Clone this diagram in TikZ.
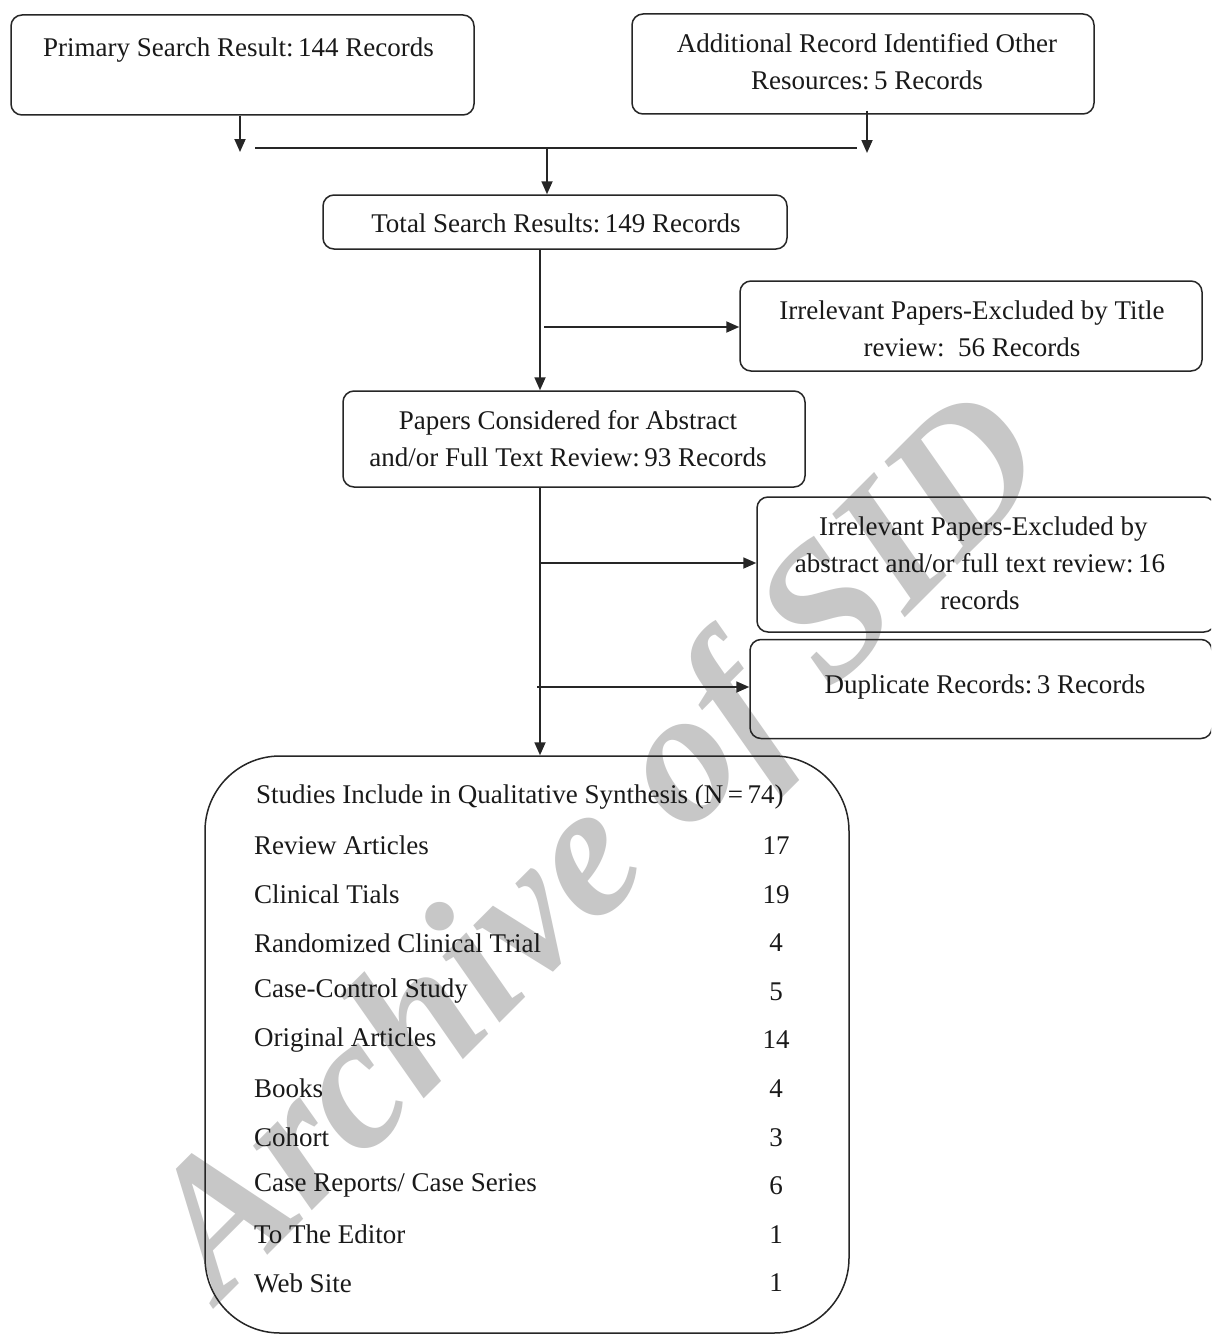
\documentclass[tikz,border=0pt]{standalone}
\usepackage{fontspec}
\setmainfont{Liberation Serif}
\usetikzlibrary{arrows.meta}
\begin{document}
\begin{tikzpicture}[x=1pt,y=-1pt,
  box/.style={draw=black!85, line width=1.5pt, rounded corners=11pt, inner sep=0pt},
  txt/.style={font=\fontsize{27}{37}\selectfont, align=center, inner sep=0pt, text=black!90},
  row/.style={font=\fontsize{27}{37}\selectfont, inner sep=0pt, text=black!90, anchor=west},
  num/.style={font=\fontsize{27}{37}\selectfont, inner sep=0pt, text=black!90},
  arr/.style={draw=black!85, line width=1.8pt, -{Triangle[length=13pt,width=11pt]}},
  ln/.style={draw=black!85, line width=1.8pt},
  wmark/.style={text=black!22, font=\fontsize{190}{190}\selectfont\bfseries\itshape, inner sep=0pt}]
\useasboundingbox (0,0) rectangle (1211,1335);
\clip (0,0) rectangle (1211,1335);
\fill[white] (0,0) rectangle (1211,1335);

% watermark
\node[wmark, rotate=45] (wm) at (605,852) {Archive of SID};

% boxes
\node[box, minimum width=463pt, minimum height=100pt] (b1) at (242.5,65) {};
\node[txt] (t1) at (238.5,50) {Primary Search Result:\,144 Records};

\node[box, minimum width=462pt, minimum height=100pt] (b2) at (863,64) {};
\node[txt] (t2) at (867,62) {Additional Record Identified Other\\Resources:\,5 Records};

\node[box, minimum width=464pt, minimum height=54pt] (b3) at (555,222) {};
\node[txt] (t3) at (556,223) {Total Search Results:\,149 Records};

\node[box, minimum width=462pt, minimum height=90pt] (b5) at (971,326) {};
\node[txt] (t5) at (972,329) {Irrelevant Papers-Excluded by Title\\review:\ \ 56 Records};

\node[box, minimum width=462pt, minimum height=96pt] (b4) at (574,439) {};
\node[txt] (t4) at (568,439) {Papers Considered for Abstract\\and/or Full Text Review:\,93 Records};

\node[box, minimum width=458pt, minimum height=135pt] (b6) at (986,564.5) {};
\node[txt] (t6) at (980,563) {\ Irrelevant Papers-Excluded by\\abstract and/or full text review:\,16\\records};

\node[box, minimum width=462pt, minimum height=99pt] (b7) at (981,689) {};
\node[txt] (t7) at (985,687) {Duplicate Records:\,3 Records};

\node[box, rounded corners=75pt, minimum width=644pt, minimum height=577pt] (b8) at (527,1044.5) {};
\node[row] (h8) at (256,797) {Studies Include in Qualitative Synthesis (N\,=\,74)};
\foreach \lab/\n [count=\i] in {Review Articles/17, Clinical Tials/19, Randomized Clinical Trial/4, Case-Control Study/5, Original Articles/14, Books/4, Cohort/3, {Case Reports/ Case Series}/6, To The Editor/1, Web Site/1}{
  \node[row] (r\i) at (254,{797+48.6*\i}) {\lab};
  \node[num] (n\i) at (776,{797+48.6*\i}) {\n};
}

% connectors
\coordinate (j1) at (240,152);
\coordinate (j2) at (867,153);
\coordinate (hl) at (255,148);
\coordinate (hr) at (857,148);
\coordinate (hm) at (547,148);
\draw[arr] (b1.south -| j1) -- (j1);
\draw[arr] ([yshift=4pt]b2.south -| j2) -- (j2);
\draw[ln] (hl) -- (hr);
\draw[arr] (hm) -- (b3.north -| hm);

\coordinate (v1) at (540,250);
\draw[arr] (b3.south -| v1) -- (b4.north -| v1);
\coordinate (br1) at (544,327);
\draw[arr] (br1) -- (br1 -| b5.west);

\coordinate (v2) at (540,487);
\draw[arr] (b4.south -| v2) -- (b8.north -| v2);
\coordinate (br2) at (540,563);
\draw[arr] (br2) -- (br2 -| b6.west);
\coordinate (br3) at (537,687);
\draw[arr] (br3) -- (br3 -| b7.west);
\end{tikzpicture}
\end{document}
